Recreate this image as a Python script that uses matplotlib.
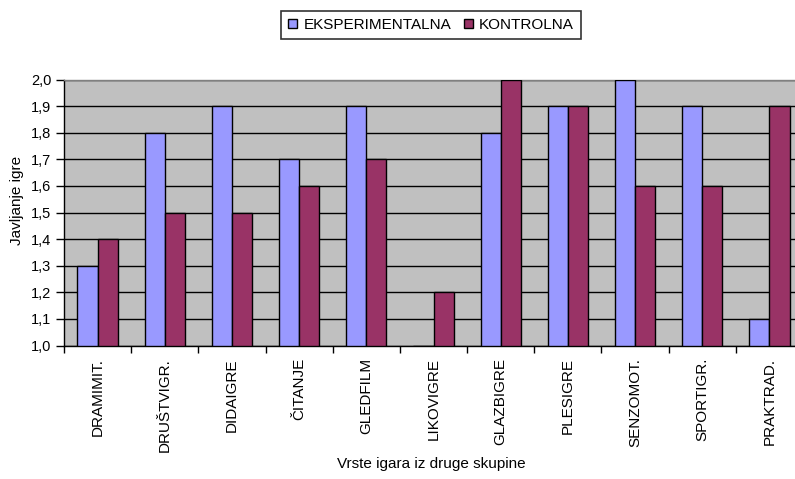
import matplotlib.pyplot as plt
import numpy as np
from matplotlib.patches import Patch

plt.rcParams['font.family'] = ['Liberation Sans', 'DejaVu Sans']

kategorije = ['DRAMIMIT.', 'DRUŠTVIGR.', 'DIDAIGRE', 'ČITANJE', 'GLEDFILM', 'LIKOVIGRE',
              'GLAZBIGRE', 'PLESIGRE', 'SENZOMOT.', 'SPORTIGR.', 'PRAKTRAD.']
eksperimentalna = [1.3, 1.8, 1.9, 1.7, 1.9, 1.0, 1.8, 1.9, 2.0, 1.9, 1.1]
kontrolna = [1.4, 1.5, 1.5, 1.6, 1.7, 1.2, 2.0, 1.9, 1.6, 1.6, 1.9]
y_ticks = [1.0, 1.1, 1.2, 1.3, 1.4, 1.5, 1.6, 1.7, 1.8, 1.9, 2.0]

W, H = 795, 479
fig = plt.figure(figsize=(W / 100, H / 100), dpi=100)
# plot area runs past the right edge of the picture, like the cropped original
ax = fig.add_axes([64 / W, (H - 345.5) / H, (803 - 64) / W, (345.5 - 79.5) / H])
ax.set_facecolor('#C0C0C0')

x = np.arange(len(kategorije))
bw = 0.3
ax.bar(x - bw / 2, np.array(eksperimentalna) - 1.0, bw, bottom=1.0, color='#9999FF',
       edgecolor='black', linewidth=1, zorder=3)
ax.bar(x + bw / 2, np.array(kontrolna) - 1.0, bw, bottom=1.0, color='#993366',
       edgecolor='black', linewidth=1, zorder=3)

ax.set_xlim(-0.5, len(kategorije) - 0.5)
ax.set_ylim(1.0, 2.0)
ax.set_yticks(y_ticks)
ax.set_yticklabels([f'{v:.1f}'.replace('.', ',') for v in y_ticks], fontsize=10.5)
ax.yaxis.grid(True, color='black', linewidth=1, zorder=1)
ax.set_axisbelow(True)

ax.set_xticks(x)
ax.set_xticklabels(kategorije, rotation=90, fontsize=11, va='top')
ax.set_xticks(np.arange(len(kategorije) + 1) - 0.5, minor=True)
ax.tick_params(axis='x', which='major', length=0, pad=9)
ax.tick_params(axis='x', which='minor', length=5, width=1, direction='out')
ax.tick_params(axis='y', length=6, width=1, direction='out', pad=3)

for s in ax.spines.values():
    s.set_color('black')
    s.set_linewidth(1)
ax.spines['top'].set_color('#808080')

fig.text(17 / W, 1 - 200 / H, 'Javljanje igre', fontsize=11, rotation=90,
         ha='center', va='center')
fig.text(431 / W, 1 - 464 / H, 'Vrste igara iz druge skupine', fontsize=11,
         ha='center', va='center')

handles = [Patch(facecolor='#9999FF', edgecolor='black', label='EKSPERIMENTALNA'),
           Patch(facecolor='#993366', edgecolor='black', label='KONTROLNA')]
leg = fig.legend(handles=handles, loc='center', bbox_to_anchor=(431 / W, 1 - 25 / H),
                 ncol=2, fontsize=11, frameon=True, fancybox=False, borderpad=0.45,
                 handlelength=0.6, handleheight=0.6, handletextpad=0.4, columnspacing=0.8,
                 borderaxespad=0)
leg.get_frame().set_edgecolor('black')
leg.get_frame().set_linewidth(1.2)

fig.savefig('out.png', dpi=100)
